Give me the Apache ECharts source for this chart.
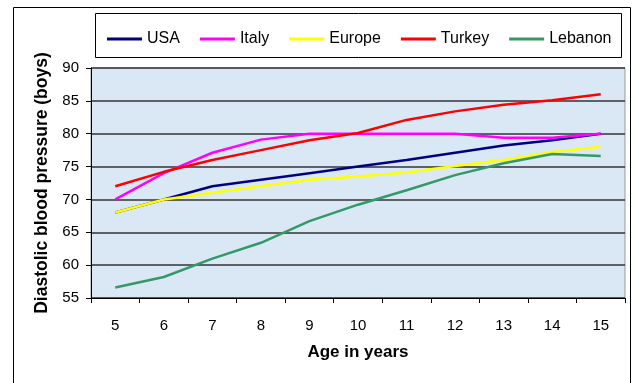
<!DOCTYPE html>
<html>
<head>
<meta charset="utf-8">
<script src="https://cdn.jsdelivr.net/npm/echarts@6/dist/echarts.min.js"></script>
<style>
  html, body { margin: 0; padding: 0; background: #fff; }
  #chart { width: 640px; height: 383px; }
</style>
</head>
<body>
<div id="chart"></div>
<script>
// Diastolic blood pressure of boys by age, per country/region
const ages = ['5', '6', '7', '8', '9', '10', '11', '12', '13', '14', '15'];
const usa     = [68, 70, 72, 73, 74, 75, 76, 77.1, 78.2, 79, 80];
const italy   = [70, 74, 77.1, 79.1, 80, 80, 80, 80, 79.4, 79.4, 80];
const europe  = [68, 70, 71, 72, 73, 73.5, 74.1, 75.1, 76, 77.2, 78];
const turkey  = [72, 74.2, 76, 77.5, 79, 80.1, 82.1, 83.4, 84.4, 85.1, 86];
const lebanon = [56.6, 58.2, 61, 63.4, 66.7, 69.2, 71.4, 73.7, 75.5, 76.9, 76.6];
const yTicks  = { min: 55, max: 90, step: 5 };

const font = 'Liberation Sans, Arial, sans-serif';
const seriesDefs = [
  { name: 'USA', data: usa, color: '#000080' },
  { name: 'Italy', data: italy, color: '#ff00ff' },
  { name: 'Europe', data: europe, color: '#ffff00' },
  { name: 'Turkey', data: turkey, color: '#ff0000' },
  { name: 'Lebanon', data: lebanon, color: '#339966' }
];

const chart = echarts.init(document.getElementById('chart'), null, { renderer: 'canvas' });
chart.setOption({
  animation: false,
  textStyle: { fontFamily: font },
  graphic: [
    // outer chart frame (open at the bottom edge)
    { type: 'rect', shape: { x: 13.5, y: 7.5, width: 617, height: 400 },
      style: { fill: 'none', stroke: '#000', lineWidth: 1 }, z: -1 },
    // legend frame
    { type: 'rect', shape: { x: 95.5, y: 13.5, width: 526, height: 44 },
      style: { fill: '#fff', stroke: '#000', lineWidth: 1 }, z: -1 }
  ],
  legend: {
    left: 102, top: 26,
    itemWidth: 35, itemHeight: 3, itemGap: 20,
    icon: 'rect',
    textStyle: { fontFamily: font, fontSize: 16, color: '#000' },
    data: seriesDefs.map(s => s.name)
  },
  grid: {
    left: 91, right: 15, top: 68, bottom: 85,
    show: true,
    backgroundColor: '#dae8f6',
    borderColor: '#999',
    borderWidth: 1
  },
  xAxis: {
    type: 'category',
    data: ages,
    boundaryGap: true,
    name: 'Age in years',
    nameLocation: 'middle',
    nameGap: 46,
    nameTextStyle: { fontFamily: font, fontSize: 17, fontWeight: 'bold', color: '#000' },
    axisLine: { lineStyle: { color: '#000', width: 1 } },
    axisTick: { show: true, alignWithLabel: false, length: 5, lineStyle: { color: '#000' } },
    axisLabel: { fontFamily: font, fontSize: 15, color: '#000', margin: 20 }
  },
  yAxis: {
    type: 'value',
    min: yTicks.min, max: yTicks.max, interval: yTicks.step,
    name: 'Diastolic blood pressure (boys)',
    nameLocation: 'middle',
    nameGap: 38,
    nameTextStyle: { fontFamily: font, fontSize: 17.5, fontWeight: 'bold', color: '#000' },
    axisLine: { show: true, lineStyle: { color: '#000', width: 1 } },
    axisTick: { show: true, length: 5, lineStyle: { color: '#000' } },
    axisLabel: { fontFamily: font, fontSize: 15, color: '#000', margin: 12 },
    splitLine: { show: true, lineStyle: { color: '#333', width: 1.5 } }
  },
  series: seriesDefs.map(s => ({
    name: s.name,
    type: 'line',
    data: s.data,
    symbol: 'none',
    color: s.color,
    lineStyle: { color: s.color, width: 2.5 }
  }))
});
</script>
</body>
</html>
